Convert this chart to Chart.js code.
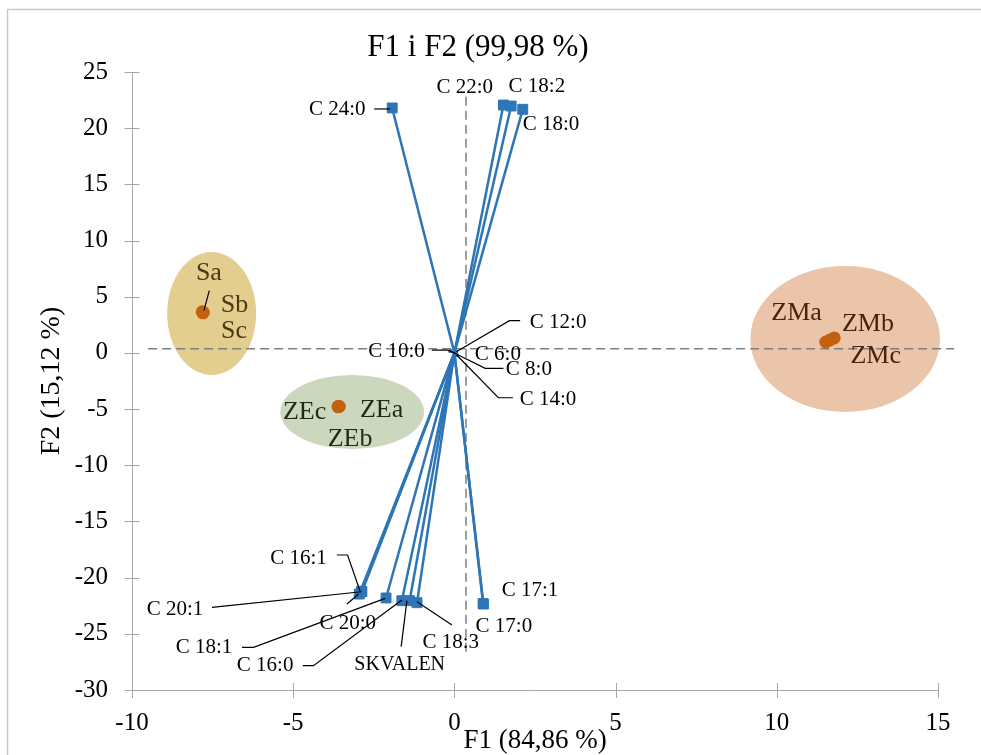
<!DOCTYPE html>
<html>
<head>
<meta charset="utf-8">
<script src="https://cdn.jsdelivr.net/npm/chart.js@4.4.1/dist/chart.umd.min.js"></script>
<style>
html, body { margin: 0; padding: 0; background: #fff; overflow: hidden; }
</style>
</head>
<body>
<canvas id="grafico" width="981" height="755"></canvas>
<script>
// Dados (F1 = eixo X, F2 = eixo Y)
const vecNames = ['C 24:0', 'C 22:0', 'C 18:2', 'C 18:0', 'C 16:1', 'C 20:1', 'C 20:0', 'C 18:1', 'C 16:0',
                  'SKVALEN', 'C 18:3', 'C 17:1', 'C 17:0', 'C 12:0', 'C 10:0', 'C 6:0', 'C 8:0', 'C 14:0'];
const vecF1 = [-1.93, 1.52, 1.76, 2.12, -2.87, -2.88, -2.95, -2.12, -1.63, -1.39, -1.16, 0.90, 0.89, 0.06, 0.02, 0.05, -0.13, 0.07];
const vecF2 = [21.80, 22.06, 21.97, 21.68, -21.25, -21.22, -21.46, -21.81, -22.05, -22.05, -22.23, -22.35, -22.31, 0.10, -0.03, -0.10, 0.17, -0.19];

const sampleNames = ['Sa', 'Sb', 'Sc', 'ZEa', 'ZEb', 'ZEc', 'ZMa', 'ZMb', 'ZMc'];
const sampleF1 = [-7.82, -7.79, -7.80, -3.57, -3.60, -3.61, 11.52, 11.78, 11.65];
const sampleF2 = [3.66, 3.60, 3.57, -4.76, -4.80, -4.78, 0.97, 1.33, 1.15];

const xTicks = [-10, -5, 0, 5, 10, 15];
const yTicks = [-30, -25, -20, -15, -10, -5, 0, 5, 10, 15, 20, 25];

// Linhas tracejadas (centro) e elipses dos grupos
const linhaH = { y: 0.38, x0: -9.5, x1: 15.5 };
const linhaV = { x: 0.36, y0: -26.6, y1: 23.1 };
const elipses = [
  { cx: -7.53, cy: 3.51, rx: 1.38, ry: 5.47, cor: 'rgb(227,205,143)' },
  { cx: -3.17, cy: -5.26, rx: 2.23, ry: 3.29, cor: 'rgb(203,216,189)' },
  { cx: 12.12, cy: 1.24, rx: 2.94, ry: 6.5, cor: 'rgb(234,197,169)' }
];

// Posição dos rótulos dos vetores (deslocamento em px a partir da ponta) e linhas de chamada
const vecLabels = [
  { dx: -55, dy: 1.3, leader: [[-18, 1], [-2, 1]] },
  { dx: -38.6, dy: -18 },
  { dx: 25.7, dy: -19.3 },
  { dx: 28.3, dy: 15 },
  { dx: -63.3, dy: -33.4, leader: [[-25, -36.7], [-14.3, -36.7], [-1.6, 0]] },
  { dx: -186.6, dy: 17.7, leader: [[-149.6, 16], [0, 0.4]] },
  { dx: -11.5, dy: 29.3, leader: [[-12.3, 10], [-0.7, 0]] },
  { dx: -182, dy: 49.4, leader: [[-144.1, 49.4], [-132.5, 49.4], [-0.8, 0.4]] },
  { dx: -136.7, dy: 65.3, leader: [[-99, 65], [-88.4, 65], [0, -0.7]] },
  { dx: -9.9, dy: 63.6, leader: [[-8.4, 46], [-2.7, 0]], size: 20 },
  { dx: 33.7, dy: 40, leader: [[34.9, 22.3], [0, -1]] },
  { dx: 46.6, dy: -13.3 },
  { dx: 20.8, dy: 23.1 },
  { dx: 101.8, dy: -29.1, leader: [[63.8, -31.1], [53.1, -31.1], [0, 0]] },
  { dx: -58.6, dy: -1.5, leader: [[-23.2, -3.2], [-7.6, -3.2], [0, 0]] },
  { dx: 41.9, dy: 0.3 },
  { dx: 78.7, dy: 18.3, leader: [[0, 0], [35, 17.3], [53.2, 17.3]] },
  { dx: 91.4, dy: 44, leader: [[0, 0], [41.7, 42.7], [56.4, 42.7]] }
];

const sampleLabels = [
  { dx: 6.6, dy: -38.5, leader: [[7, -21.1], [1.6, -1.1]], cor: '#4a3a10' },
  { dx: 31.3, dy: -7.5, cor: '#4a3a10' },
  { dx: 31.1, dy: 17.9, cor: '#4a3a10' },
  { dx: 42.3, dy: 3.6, cor: '#1f2c15' },
  { dx: 11.7, dy: 32.2, cor: '#1f2c15' },
  { dx: -33.4, dy: 5.1, cor: '#1f2c15' },
  { dx: -29.2, dy: -28.7, cor: '#4a220c' },
  { dx: 33.7, dy: -14, cor: '#4a220c' },
  { dx: 45.7, dy: 15.7, cor: '#4a220c' }
];

const SERIF = "'Liberation Serif', 'Times New Roman', serif";
const AZUL = 'rgb(46,117,182)';
const LARANJA = 'rgb(194,97,15)';
const CINZA_EIXO = '#a6a6a6';

// Um dataset por vetor: da origem até a ponta (marcador quadrado)
const datasets = vecNames.map((nome, i) => {
  const pequeno = Math.hypot(vecF1[i], vecF2[i]) < 1;
  return {
    label: nome,
    data: [{ x: 0, y: 0 }, { x: vecF1[i], y: vecF2[i] }],
    showLine: true,
    borderColor: AZUL,
    backgroundColor: AZUL,
    borderWidth: 2.5,
    pointStyle: 'rect',
    pointRadius: [0, pequeno ? 2 : 7],
    pointBorderWidth: 1
  };
});
datasets.push({
  label: 'amostras',
  data: sampleNames.map((n, i) => ({ x: sampleF1[i], y: sampleF2[i] })),
  showLine: false,
  pointStyle: 'circle',
  pointRadius: 6.5,
  backgroundColor: LARANJA,
  borderColor: LARANJA,
  borderWidth: 0
});

function poli(ctx, pts) {
  ctx.beginPath();
  pts.forEach((p, k) => k === 0 ? ctx.moveTo(p[0], p[1]) : ctx.lineTo(p[0], p[1]));
  ctx.stroke();
}

const pluginDesenho = {
  id: 'desenho',
  beforeDatasetsDraw(chart) {
    const { ctx, scales: { x, y } } = chart;
    ctx.save();
    // moldura externa
    ctx.strokeStyle = '#c9c9c9';
    ctx.lineWidth = 1.5;
    ctx.strokeRect(7.5, 9.5, 1100, 900);
    // elipses
    elipses.forEach(e => {
      const cx = x.getPixelForValue(e.cx), cy = y.getPixelForValue(e.cy);
      const rx = Math.abs(x.getPixelForValue(e.cx + e.rx) - cx);
      const ry = Math.abs(y.getPixelForValue(e.cy + e.ry) - cy);
      ctx.fillStyle = e.cor;
      ctx.beginPath();
      ctx.ellipse(cx, cy, rx, ry, 0, 0, Math.PI * 2);
      ctx.fill();
    });
    // linhas tracejadas
    ctx.strokeStyle = '#7f7f7f';
    ctx.lineWidth = 1.5;
    ctx.setLineDash([9, 5]);
    poli(ctx, [[x.getPixelForValue(linhaH.x0), y.getPixelForValue(linhaH.y)], [x.getPixelForValue(linhaH.x1), y.getPixelForValue(linhaH.y)]]);
    poli(ctx, [[x.getPixelForValue(linhaV.x), y.getPixelForValue(linhaV.y0)], [x.getPixelForValue(linhaV.x), y.getPixelForValue(linhaV.y1)]]);
    ctx.setLineDash([]);
    // marcas de escala cruzadas
    ctx.strokeStyle = CINZA_EIXO;
    ctx.lineWidth = 1;
    x.ticks.forEach(t => {
      const px = Math.round(x.getPixelForValue(t.value)) + 0.5;
      poli(ctx, [[px, y.bottom - 7], [px, y.bottom + 8]]);
    });
    y.ticks.forEach(t => {
      const py = Math.round(y.getPixelForValue(t.value)) + 0.5;
      poli(ctx, [[x.left - 7.5, py], [x.left + 7.5, py]]);
    });
    ctx.restore();
  },
  afterDatasetsDraw(chart) {
    const { ctx, scales: { x, y } } = chart;
    ctx.save();
    ctx.textAlign = 'center';
    ctx.textBaseline = 'middle';
    ctx.lineWidth = 1.2;
    ctx.strokeStyle = '#000';
    // rótulos dos vetores
    vecNames.forEach((nome, i) => {
      const px = x.getPixelForValue(vecF1[i]), py = y.getPixelForValue(vecF2[i]);
      const l = vecLabels[i];
      if (l.leader) poli(ctx, l.leader.map(p => [px + p[0], py + p[1]]));
      ctx.fillStyle = '#000';
      ctx.font = (l.size || 21) + 'px ' + SERIF;
      ctx.fillText(nome, px + l.dx, py + l.dy);
    });
    // rótulos das amostras
    sampleNames.forEach((nome, i) => {
      const px = x.getPixelForValue(sampleF1[i]), py = y.getPixelForValue(sampleF2[i]);
      const l = sampleLabels[i];
      if (l.leader) poli(ctx, l.leader.map(p => [px + p[0], py + p[1]]));
      ctx.fillStyle = l.cor;
      ctx.font = '26px ' + SERIF;
      ctx.fillText(nome, px + l.dx, py + l.dy);
    });
    // título
    ctx.fillStyle = '#000';
    ctx.font = '31px ' + SERIF;
    ctx.fillText('F1 i F2 (99,98 %)', 478, 47.5);
    ctx.restore();
  }
};

new Chart(document.getElementById('grafico'), {
  type: 'scatter',
  data: { datasets: datasets },
  options: {
    responsive: false,
    animation: false,
    events: [],
    layout: { padding: { top: 72, right: 43, left: 0, bottom: 0 } },
    plugins: { legend: { display: false }, tooltip: { enabled: false } },
    scales: {
      x: {
        type: 'linear', min: xTicks[0], max: xTicks[xTicks.length - 1],
        afterBuildTicks: s => { s.ticks = xTicks.map(v => ({ value: v })); },
        afterFit: s => { s.height = 65; },
        ticks: { color: '#000', padding: 18, font: { family: SERIF, size: 25 } },
        grid: { display: false, drawTicks: false },
        border: { display: true, color: CINZA_EIXO, width: 1 },
        title: { display: true, text: 'F1 (84,86 %)', color: '#000', font: { family: SERIF, size: 27, lineHeight: 1 }, padding: { top: 0, bottom: 1 } }
      },
      y: {
        type: 'linear', min: yTicks[0], max: yTicks[yTicks.length - 1],
        afterBuildTicks: s => { s.ticks = yTicks.map(v => ({ value: v })); },
        afterFit: s => { s.width = 132; },
        ticks: { color: '#000', padding: 24, font: { family: SERIF, size: 25 } },
        grid: { display: false, drawTicks: false },
        border: { display: true, color: CINZA_EIXO, width: 1 },
        title: { display: true, text: 'F2 (15,12 %)', color: '#000', font: { family: SERIF, size: 28, lineHeight: 1.2 }, padding: { top: 35, bottom: 0 } }
      }
    }
  },
  plugins: [pluginDesenho]
});
</script>
</body>
</html>
